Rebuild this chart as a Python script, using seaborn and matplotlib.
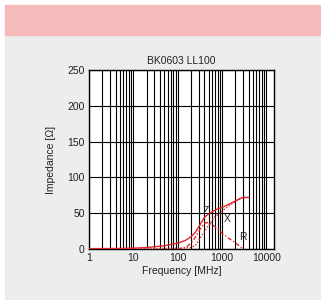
import matplotlib
matplotlib.use("Agg")
import matplotlib.pyplot as plt
import matplotlib.patches as mpatches
from matplotlib.ticker import FixedLocator, NullFormatter
import seaborn as sns
import pandas as pd

# ---- data ----
freq_z = [1, 2, 5, 10, 20, 50, 100, 150, 200, 250, 300, 400, 500, 600, 800, 1000, 1500, 2000, 2500, 3000, 4000]
imp_z = [0.5, 0.6, 0.8, 1.2, 2, 4.5, 8, 12, 17, 23, 31, 44, 49, 52, 56, 58, 63, 67, 70, 72, 72]

freq_x = [1, 2, 5, 10, 20, 50, 100, 200, 250, 300, 400, 500, 700, 1000, 1500, 2000, 2500, 3000, 4000]
imp_x = [0.3, 0.3, 0.4, 0.5, 0.6, 0.8, 1, 2, 5, 12, 24, 33, 45, 53, 61, 66, 70, 72, 72]

freq_r = [100, 150, 200, 250, 300, 400, 500, 700, 1000, 1500, 2000, 2500, 3000]
imp_r = [0, 2, 8, 16, 25, 36, 37, 31, 22, 14, 9, 4, 0]

x_ticks = [1, 10, 100, 1000, 10000]
x_tick_labels = ["1", "10", "100", "1000", "10000"]
y_ticks = [0, 50, 100, 150, 200, 250]

title = "BK0603 LL100"
xlabel = "Frequency [MHz]"
ylabel = "Impedance [Ω]"

sns.set_theme(style="white")
plt.rcParams["font.family"] = ["Liberation Sans", "DejaVu Sans"]

fig = plt.figure(figsize=(3.21, 3.0), dpi=100)
fig.patch.set_facecolor("white")
fig.patches.append(mpatches.Rectangle((5 / 321, 0), 316 / 321, 265 / 300,
                                      transform=fig.transFigure, color="#ECEEED", zorder=-2))
fig.patches.append(mpatches.Rectangle((5 / 321, 265 / 300), 316 / 321, 30 / 300,
                                      transform=fig.transFigure, color="#F5BBBB", zorder=-2))

ax = fig.add_axes([89 / 321, 51 / 300, 185 / 321, 179 / 300])
ax.set_zorder(2)
ax.set_facecolor("white")

red = "#E3262B"
dz = pd.DataFrame({"f": freq_z, "v": imp_z})
dx = pd.DataFrame({"f": freq_x, "v": imp_x})
dr = pd.DataFrame({"f": freq_r, "v": imp_r})
sns.lineplot(data=dz, x="f", y="v", ax=ax, color=red, lw=1.0, zorder=5)
sns.lineplot(data=dx, x="f", y="v", ax=ax, color=red, lw=1.0, ls=(0, (1, 1.2)), zorder=5)
sns.lineplot(data=dr, x="f", y="v", ax=ax, color=red, lw=1.0, ls=(0, (3, 1.5, 1, 1.5)), zorder=5)

ax.set_xscale("log")
ax.set_xlim(1, 15000)
ax.set_ylim(0, 250)

minor = [m * 10 ** d for d in range(0, 4) for m in range(2, 10)]
ax.xaxis.set_major_locator(FixedLocator(x_ticks))
ax.xaxis.set_minor_locator(FixedLocator(minor))
ax.xaxis.set_minor_formatter(NullFormatter())
ax.set_xticklabels(x_tick_labels)
ax.set_yticks(y_ticks)
ax.grid(True, which="both", axis="x", color="black", lw=0.8)
ax.grid(True, which="major", axis="y", color="black", lw=0.8)
ax.tick_params(which="both", length=0, labelsize=7.5, colors="#222222", pad=3)

for s in ax.spines.values():
    s.set_color("black")
    s.set_linewidth(1.0)
    s.set_visible(True)

ax.set_title(title, fontsize=7.5, pad=4, color="#222222")
ax.set_xlabel(xlabel, fontsize=7.5, labelpad=2, color="#222222")
ax.set_ylabel(ylabel, fontsize=7.5, labelpad=8, color="#222222")

for txt, fx, fy in [("Z", 430, 53), ("X", 1300, 42), ("R", 3000, 17)]:
    ax.text(fx, fy, txt, fontsize=7.5, color="#222222", ha="center", va="center", zorder=6)

fig.savefig("out.png", dpi=100)
